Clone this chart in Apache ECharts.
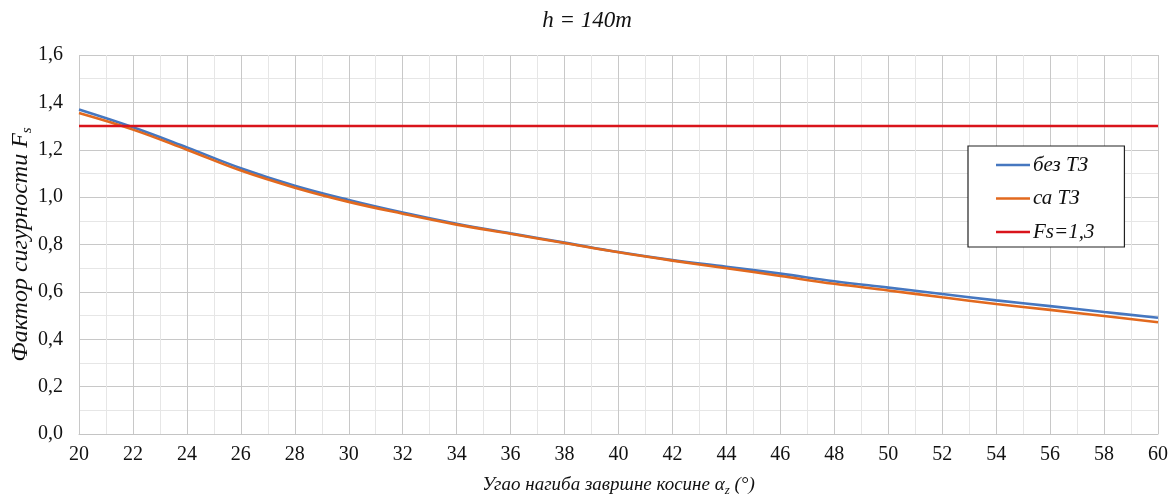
<!DOCTYPE html>
<html>
<head>
<meta charset="utf-8">
<script src="https://cdn.jsdelivr.net/npm/echarts@6/dist/echarts.min.js"></script>
<style>
html,body{margin:0;padding:0;background:#fff;}
#c{width:1174px;height:501px;}
</style>
</head>
<body>
<div id="c"></div>
<script>
const angles = [20,22,24,26,28,30,32,34,36,38,40,42,44,46,48,50,52,54,56,58,60];
const bezTZ = [1.370,1.295,1.210,1.122,1.048,0.988,0.935,0.888,0.847,0.808,0.768,0.734,0.706,0.677,0.645,0.618,0.591,0.564,0.540,0.515,0.491];
const saTZ  = [1.355,1.285,1.200,1.112,1.040,0.980,0.930,0.884,0.845,0.806,0.767,0.732,0.700,0.667,0.634,0.606,0.577,0.549,0.524,0.498,0.472];
const fsLimit = 1.3;
const seriesNames = ['без ТЗ','са ТЗ','Fs=1,3'];
const titleText = 'h = 140m';

const serif = '"Liberation Serif","Times New Roman",serif';
const pair = (ys) => angles.map((a,i)=>[a, ys[i]]);

const chart = echarts.init(document.getElementById('c'), null, {renderer:'canvas'});
chart.setOption({
  animation:false,
  backgroundColor:'#fff',
  title:{
    text:titleText, left:'center', top:4,
    textStyle:{fontFamily:serif, fontStyle:'italic', fontWeight:'normal', fontSize:23, color:'#111'}
  },
  grid:{left:79, right:16, top:55, bottom:67, containLabel:false, outerBoundsMode:'none'},
  legend:{
    orient:'vertical', left:968, top:146,
    data:seriesNames.map(n=>({name:n, icon:'rect'})),
    itemWidth:34, itemHeight:2.5, itemGap:11.5,
    padding:[8,30,4,28],
    borderColor:'#222', borderWidth:1.2, backgroundColor:'#fff',
    textStyle:{fontFamily:serif, fontStyle:'italic', fontSize:21, color:'#111', lineHeight:22, padding:[0,0,0,-2]}
  },
  xAxis:{
    type:'value', min:20, max:60, interval:2,
    name:'{t|Угао нагиба завршне косине α}{s|z}{t| (°)}',
    nameLocation:'middle', nameGap:39, nameMoveOverlap:false,
    nameTextStyle:{
      rich:{
        t:{fontFamily:serif, fontStyle:'italic', fontSize:19, color:'#111', lineHeight:24},
        s:{fontFamily:serif, fontStyle:'italic', fontSize:13, color:'#111', lineHeight:14, verticalAlign:'bottom'}
      }
    },
    axisLine:{show:true, lineStyle:{color:'#c4c4c4', width:1}},
    axisTick:{show:false},
    axisLabel:{fontFamily:serif, fontSize:20, color:'#111', margin:11},
    splitLine:{show:true, lineStyle:{color:'#c8c8c8', width:1}},
    minorTick:{show:false, splitNumber:2},
    minorSplitLine:{show:true, lineStyle:{color:'#e6e6e6', width:1}}
  },
  yAxis:{
    type:'value', min:0, max:1.6, interval:0.2,
    name:'{t|Фактор сигурности }{f|F}{s|s}',
    nameLocation:'middle', nameGap:44, nameRotate:90, nameMoveOverlap:false,
    nameTextStyle:{
      rich:{
        t:{fontFamily:serif, fontStyle:'italic', fontSize:24, color:'#111', lineHeight:28},
        f:{fontFamily:serif, fontStyle:'italic', fontSize:24, color:'#111', lineHeight:28},
        s:{fontFamily:serif, fontStyle:'italic', fontSize:15, color:'#111', lineHeight:16, verticalAlign:'bottom'}
      }
    },
    axisLine:{show:false},
    axisTick:{show:false},
    axisLabel:{fontFamily:serif, fontSize:20, color:'#111', margin:16,
      formatter:(v)=>v.toFixed(1).replace('.',',')},
    splitLine:{show:true, lineStyle:{color:'#c8c8c8', width:1}},
    minorTick:{show:false, splitNumber:2},
    minorSplitLine:{show:true, lineStyle:{color:'#e6e6e6', width:1}}
  },
  series:[
    {name:seriesNames[0], type:'line', data:pair(bezTZ), smooth:0.4, showSymbol:false, symbol:'none',
     lineStyle:{color:'#4677C0', width:2.6}, itemStyle:{color:'#4677C0'}, z:3},
    {name:seriesNames[1], type:'line', data:pair(saTZ), smooth:0.4, showSymbol:false, symbol:'none',
     lineStyle:{color:'#E2691E', width:2.6}, itemStyle:{color:'#E2691E'}, z:4},
    {name:seriesNames[2], type:'line', data:pair(angles.map(()=>fsLimit)), showSymbol:false, symbol:'none',
     lineStyle:{color:'#D9141B', width:2.6}, itemStyle:{color:'#D9141B'}, z:5}
  ]
});
</script>
</body>
</html>
